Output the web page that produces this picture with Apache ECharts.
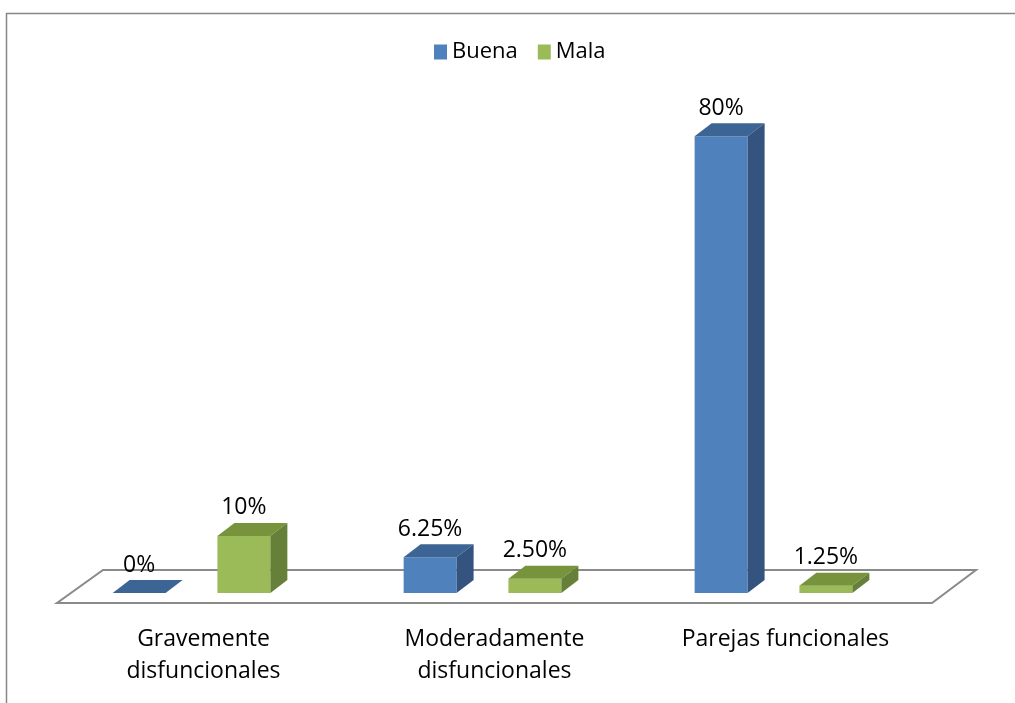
<!DOCTYPE html>
<html>
<head>
<meta charset="utf-8">
<script src="https://cdn.jsdelivr.net/npm/echarts@6/dist/echarts.min.js"></script>
<style>
  html, body { margin: 0; padding: 0; background: #fff; }
  #chart { width: 1015px; height: 703px; }
</style>
</head>
<body>
<div id="chart"></div>
<script>
// datos
const categories = ['Gravemente\ndisfuncionales', 'Moderadamente\ndisfuncionales', 'Parejas funcionales'];
const buena = [0, 6.25, 80];
const mala = [10, 2.5, 1.25];
const buenaLabels = ['0%', '6.25%', '80%'];
const malaLabels = ['10%', '2.50%', '1.25%'];

const FONT = '"Open Sans", "Noto Sans", sans-serif';
const DX = 17, DY = 13; // profundidad 3D

const colores = {
  Buena: { front: '#4F81BD', top: '#3C6494', side: '#34547F' },
  Mala: { front: '#9BBB59', top: '#77933C', side: '#66803A' }
};

function bar3d(name, offset, labels) {
  const c = colores[name];
  return function (params, api) {
    const i = api.value(0);
    const v = api.value(1);
    const base = api.coord([i, 0]);
    const top = api.coord([i, v]);
    const band = api.size([1, 0])[0];
    const w = band * 0.182;
    const cx = base[0] + offset * band;
    const x0 = cx - w / 2, x1 = cx + w / 2;
    const yb = base[1], yt = top[1];
    return {
      type: 'group',
      children: [
        { type: 'rect', shape: { x: x0, y: yt, width: w, height: yb - yt }, style: { fill: c.front } },
        { type: 'polygon', shape: { points: [[x0, yt], [x1, yt], [x1 + DX, yt - DY], [x0 + DX, yt - DY]] }, style: { fill: c.top } },
        { type: 'polygon', shape: { points: [[x1, yt], [x1 + DX, yt - DY], [x1 + DX, yb - DY], [x1, yb]] }, style: { fill: c.side } },
        {
          type: 'text', x: cx, y: yt - 28,
          style: { text: labels[i], fill: '#000', font: '23px ' + FONT, align: 'center', verticalAlign: 'middle' }
        }
      ]
    };
  };
}

// piso del grafico 3D
function floor(params, api) {
  const cs = params.coordSys;
  const y0 = api.coord([0, 0])[1];
  return {
    type: 'polygon',
    shape: {
      points: [
        [cs.x + 11, y0 + 10], [cs.x + cs.width + 13, y0 + 10],
        [cs.x + cs.width + 57, y0 - 23], [cs.x + 57, y0 - 23]
      ]
    },
    style: { fill: '#fff', stroke: '#8a8a8a', lineWidth: 2 }
  };
}

const chart = echarts.init(document.getElementById('chart'));
chart.setOption({
  animation: false,
  backgroundColor: '#fff',
  graphic: [{
    type: 'rect', left: 4, top: 11, z: -10,
    shape: { width: 1030, height: 720 },
    style: { fill: 'none', stroke: '#878787', lineWidth: 1.5 }
  }],
  legend: {
    data: ['Buena', 'Mala'],
    icon: 'rect',
    left: 429, top: 36,
    itemWidth: 13, itemHeight: 15, itemGap: 20,
    textStyle: { fontFamily: FONT, fontSize: 22, color: '#000' }
  },
  grid: { left: 46, right: 96, top: 22, bottom: 110 },
  xAxis: {
    type: 'category',
    data: categories,
    axisLine: { show: false },
    axisTick: { show: false },
    axisLabel: {
      margin: 30, interval: 0,
      fontFamily: FONT, fontSize: 23, lineHeight: 32, color: '#000',
      padding: [0, 0, 0, 24]
    }
  },
  yAxis: { type: 'value', min: 0, max: 100, show: false, splitLine: { show: false } },
  series: [
    {
      type: 'custom', name: 'floor', silent: true, z: 1,
      data: [[0, 0]], renderItem: floor
    },
    {
      type: 'custom', name: 'Buena', z: 2,
      itemStyle: { color: colores.Buena.front },
      data: buena.map((v, i) => [i, v]),
      renderItem: bar3d('Buena', -0.18, buenaLabels)
    },
    {
      type: 'custom', name: 'Mala', z: 2,
      itemStyle: { color: colores.Mala.front },
      data: mala.map((v, i) => [i, v]),
      renderItem: bar3d('Mala', 0.18, malaLabels)
    }
  ]
});
</script>
</body>
</html>
